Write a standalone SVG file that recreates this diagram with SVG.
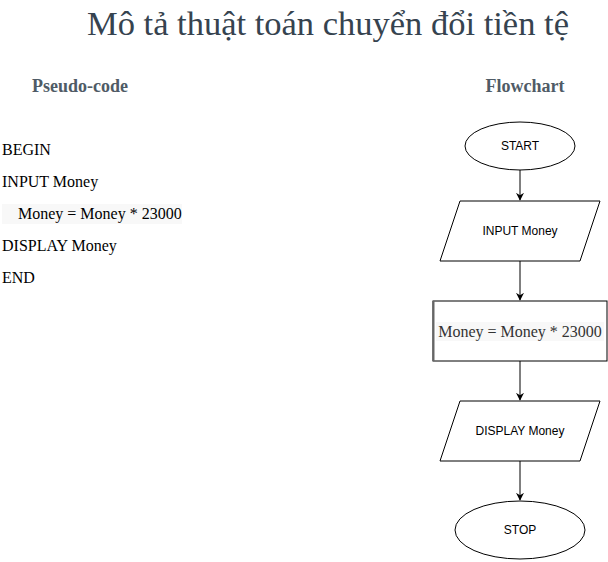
<svg xmlns="http://www.w3.org/2000/svg" width="608" height="562" viewBox="0 0 608 562">
<style>
.title{font-family:"Liberation Serif",serif;font-size:34.5px;fill:#36434f}
.head{font-family:"Liberation Serif",serif;font-size:18px;font-weight:bold;fill:#4f5b66}
.code{font-family:"Liberation Serif",serif;font-size:16px;fill:#000}
.lbl{font-family:"Liberation Sans",Arial,sans-serif;font-size:12px;fill:#000;text-anchor:middle;dominant-baseline:central}
.shape{fill:#fff;stroke:#000;stroke-width:1}
.conn{stroke:#000;stroke-width:1;fill:none}
</style>
<defs>
<marker id="arr" viewBox="0 0 10 10" refX="9" refY="5" markerWidth="8" markerHeight="8" orient="auto" markerUnits="userSpaceOnUse">
<path d="M0,0 L10,5 L0,10 L3,5 Z" fill="#000"/>
</marker>
</defs>
<rect width="608" height="562" fill="#fff"/>
<text class="title" x="328" y="35" text-anchor="middle">Mô tả thuật toán chuyển đổi tiền tệ</text>
<text class="head" x="80" y="92" text-anchor="middle">Pseudo-code</text>
<text class="head" x="525" y="92" text-anchor="middle">Flowchart</text>
<g id="pseudocode">
<text class="code" x="2" y="155">BEGIN</text>
<text class="code" x="2" y="187">INPUT Money</text>
<rect x="2" y="204" width="180" height="20" fill="#f8f8f8"/>
<text class="code" x="18" y="219">Money = Money * 23000</text>
<text class="code" x="2" y="251">DISPLAY Money</text>
<text class="code" x="2" y="283">END</text>
</g>
<g id="connectors">
<line class="conn" x1="520" y1="170" x2="520" y2="200" marker-end="url(#arr)"/>
<line class="conn" x1="520" y1="261" x2="520" y2="300" marker-end="url(#arr)"/>
<line class="conn" x1="520" y1="361" x2="520" y2="400" marker-end="url(#arr)"/>
<line class="conn" x1="520" y1="461" x2="520" y2="500" marker-end="url(#arr)"/>
</g>
<g id="start">
<ellipse class="shape" cx="520" cy="146" rx="55" ry="24"/>
<text class="lbl" x="520" y="146">START</text>
</g>
<g id="input">
<polygon class="shape" points="460,201 600,201 580,261 440,261"/>
<text class="lbl" x="520" y="231">INPUT Money</text>
</g>
<g id="process">
<rect class="shape" x="433" y="301" width="174" height="60"/>
<line x1="433.5" y1="301" x2="433.5" y2="361" stroke="#666" stroke-width="2"/>
<rect x="436" y="322" width="168" height="19" fill="#f8f8f8"/>
<text x="520" y="337" text-anchor="middle" style="font-family:'Liberation Serif',serif;font-size:16px;fill:#333">Money = Money * 23000</text>
</g>
<g id="display">
<polygon class="shape" points="460,401 600,401 580,461 440,461"/>
<text class="lbl" x="520" y="431">DISPLAY Money</text>
</g>
<g id="stop">
<ellipse class="shape" cx="520" cy="530" rx="65" ry="29"/>
<text class="lbl" x="520" y="530">STOP</text>
</g>
</svg>
